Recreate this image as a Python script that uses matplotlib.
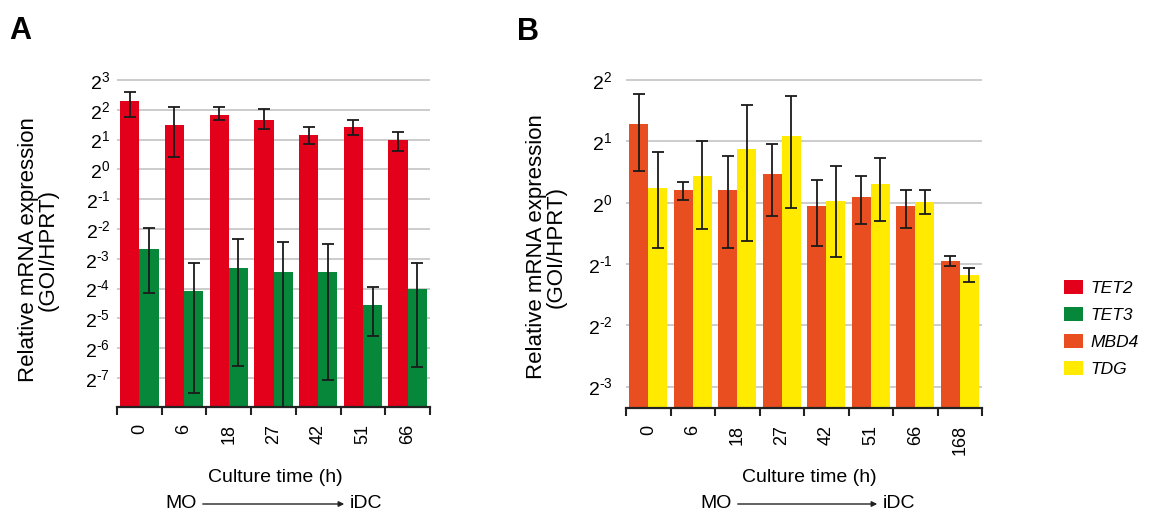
import numpy as np
import matplotlib
matplotlib.use('Agg')
import matplotlib.pyplot as plt
from matplotlib.ticker import FixedLocator, NullLocator, FuncFormatter
from matplotlib.patches import Patch

plt.rcParams['font.family'] = ['Liberation Sans', 'DejaVu Sans']
plt.rcParams['mathtext.fontset'] = 'custom'
plt.rcParams['mathtext.rm'] = 'Liberation Sans'
plt.rcParams['mathtext.it'] = 'Liberation Sans:italic'
plt.rcParams['mathtext.bf'] = 'Liberation Sans:bold'

# ---------------- data ----------------
times_a = ['0', '6', '18', '27', '42', '51', '66']
tet2_mean = [4.92, 2.81, 3.56, 3.16, 2.20, 2.66, 1.99]
tet2_hi = [6.10, 4.26, 4.26, 4.03, 2.66, 3.18, 2.36]
tet2_lo = [3.39, 1.32, 3.18, 2.57, 1.80, 2.22, 1.53]
tet3_mean = [0.157, 0.059, 0.102, 0.0915, 0.0915, 0.0424, 0.0625]
tet3_hi = [0.257, 0.114, 0.196, 0.186, 0.177, 0.065, 0.114]
tet3_lo = [0.056, 0.0055, 0.0103, 0.0030, 0.0075, 0.021, 0.010]

times_b = ['0', '6', '18', '27', '42', '51', '66', '168']
mbd4_mean = [2.45, 1.15, 1.15, 1.39, 0.96, 1.07, 0.96, 0.52]
mbd4_hi = [3.43, 1.27, 1.69, 1.95, 1.30, 1.36, 1.16, 0.547]
mbd4_lo = [1.43, 1.03, 0.60, 0.86, 0.61, 0.785, 0.75, 0.49]
tdg_mean = [1.18, 1.36, 1.83, 2.14, 1.02, 1.23, 1.01, 0.44]
tdg_hi = [1.77, 2.00, 3.01, 3.36, 1.51, 1.66, 1.15, 0.476]
tdg_lo = [0.60, 0.74, 0.65, 0.94, 0.54, 0.81, 0.88, 0.41]

ytick_exp_a = [3, 2, 1, 0, -1, -2, -3, -4, -5, -6, -7]
ytick_exp_b = [2, 1, 0, -1, -2, -3]

series_names = ['TET2', 'TET3', 'MBD4', 'TDG']
colors = {'TET2': '#E2001A', 'TET3': '#06873A', 'MBD4': '#E84E1F', 'TDG': '#FFEA00'}

W, H = 1153, 514
fig = plt.figure(figsize=(W / 100, H / 100), dpi=100)


def px_axes(x0, y0, x1, y1):
    return fig.add_axes([x0 / W, 1 - y1 / H, (x1 - x0) / W, (y1 - y0) / H])


def exp_label(v, p):
    e = int(round(np.log2(v)))
    if e < 0:
        return r'$\mathregular{2^{\text{-}%d}}$' % (-e)
    return r'$\mathregular{2^{%d}}$' % e


def panel(ax, cats, s1, s2, c1, c2, ylim_exp, tick_exp, ypad):
    n = len(cats)
    x = np.arange(n)
    w = 0.43
    base = 2.0 ** ylim_exp[0]
    ax.set_yscale('log', base=2)
    for off, (mean, lo, hi), c in ((-w / 2, s1, c1), (w / 2, s2, c2)):
        m = np.array(mean)
        ax.bar(x + off, m - base, width=w, bottom=base, color=c, zorder=2)
        yerr = [m - np.array(lo), np.array(hi) - m]
        ax.errorbar(x + off, m, yerr=yerr, fmt='none', ecolor='#1a1a1a',
                    elinewidth=1.3, capsize=4.5, capthick=1.3, zorder=3)
    ax.set_xlim(-0.5, n - 0.5)
    ax.set_ylim(2.0 ** ylim_exp[0], 2.0 ** ylim_exp[1])
    ax.yaxis.set_major_locator(FixedLocator([2.0 ** e for e in tick_exp]))
    ax.yaxis.set_minor_locator(NullLocator())
    ax.yaxis.set_major_formatter(FuncFormatter(exp_label))
    ax.tick_params(axis='y', length=0, pad=ypad, labelsize=14)
    ax.yaxis.grid(True, color='#c8c8c8', linewidth=1.3)
    ax.set_axisbelow(True)
    # x axis: tick marks at group boundaries, labels at group centers
    ax.set_xticks(np.arange(n + 1) - 0.5)
    ax.set_xticklabels([])
    ax.set_xticks(x, minor=True)
    ax.set_xticklabels(cats, minor=True, rotation=90, fontsize=13)
    ax.tick_params(axis='x', which='major', length=6, width=1.5,
                   direction='out', color='#222222')
    ax.tick_params(axis='x', which='minor', length=0, pad=12)
    for s in ('left', 'top', 'right'):
        ax.spines[s].set_visible(False)
    ax.spines['bottom'].set_linewidth(1.6)
    ax.spines['bottom'].set_color('#222222')


axA = px_axes(117, 79, 430, 407)
panel(axA, times_a, (tet2_mean, tet2_lo, tet2_hi), (tet3_mean, tet3_lo, tet3_hi),
      colors['TET2'], colors['TET3'], (-7.97, 3.03), ytick_exp_a, 5)

axB = px_axes(626, 79, 982, 408)
panel(axB, times_b, (mbd4_mean, mbd4_lo, mbd4_hi), (tdg_mean, tdg_lo, tdg_hi),
      colors['MBD4'], colors['TDG'], (-3.35, 2.02), ytick_exp_b, 10)


def ftext(xp, yp, s, **kw):
    fig.text(xp / W, 1 - yp / H, s, **kw)


# y labels
ylab = 'Relative mRNA expression\n(GOI/HPRT)'
ftext(38, 250, ylab, rotation=90, ha='center', va='center', fontsize=16,
      linespacing=0.9, multialignment='center')
ftext(546, 247, ylab, rotation=90, ha='center', va='center', fontsize=16,
      linespacing=0.9, multialignment='center')

# panel letters
ftext(9, 31, 'A', fontsize=22, fontweight='bold', va='center', ha='left')
ftext(517, 32, 'B', fontsize=22, fontweight='bold', va='center', ha='left')

# x labels with MO -> iDC arrow
for cx, mo_right, arr_end in ((275, 197, 347), (809, 732, 880)):
    ftext(cx, 478, 'Culture time (h)', fontsize=14, ha='center', va='center')
    ftext(mo_right, 504, 'MO', fontsize=14, ha='right', va='center')
    ftext(arr_end + 3, 504, 'iDC', fontsize=14, ha='left', va='center')
    fig.add_artist(matplotlib.patches.FancyArrowPatch(
        ((mo_right + 3) / W, 1 - 504 / H), (arr_end / W, 1 - 504 / H),
        transform=fig.transFigure, arrowstyle='-|>', mutation_scale=8,
        linewidth=1.0, color='#222222'))

# legend
handles = [Patch(facecolor=colors[s], edgecolor='none') for s in series_names]
fig.legend(handles, series_names, loc='upper left',
           bbox_to_anchor=(1064 / W, 1 - 280 / H), frameon=False,
           prop={'style': 'italic', 'size': 12.5}, handlelength=1.1,
           handleheight=0.9, handletextpad=0.45, labelspacing=0.62,
           borderpad=0, borderaxespad=0)

fig.savefig('out.png', dpi=100)
